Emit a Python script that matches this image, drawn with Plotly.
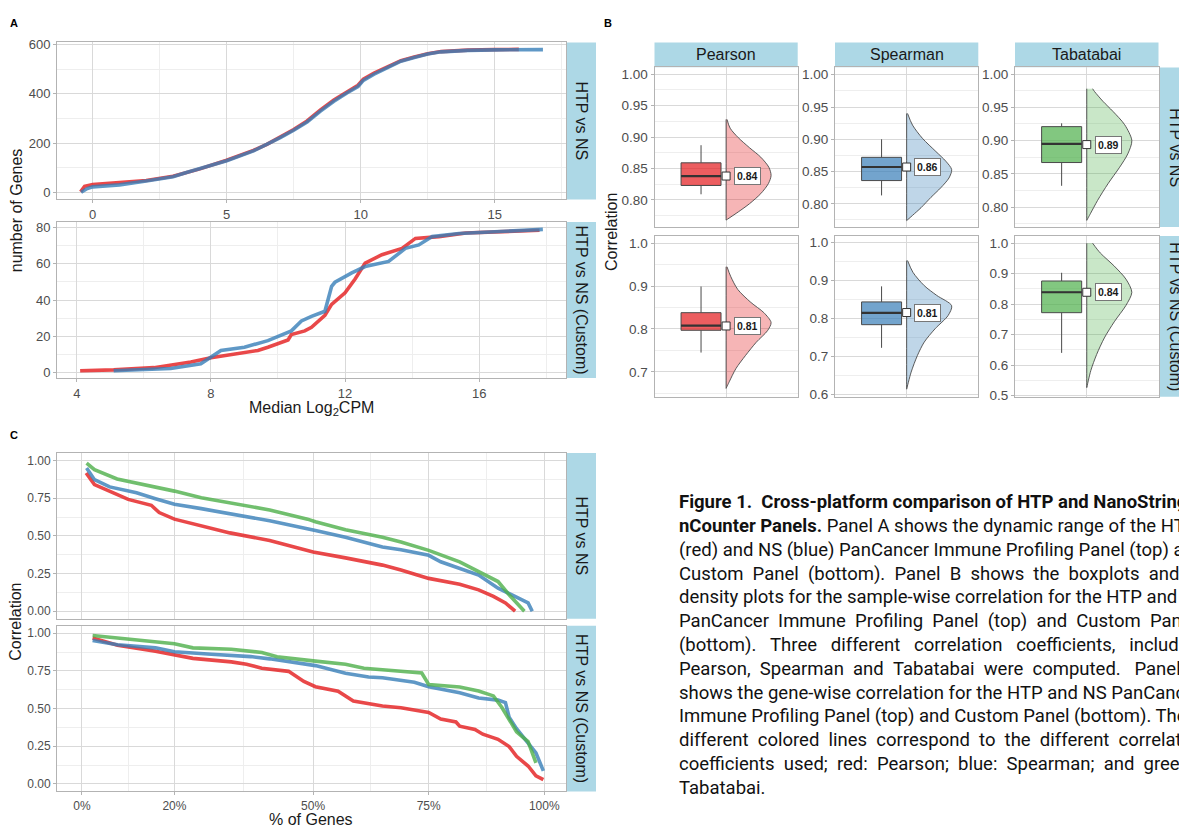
import plotly.graph_objects as go

W, H = 1179, 832

# ---------------- Panel A data (Median Log2CPM vs cumulative number of genes) ----------------
a1_red_x = [-0.45, -0.3, 0.0, 1.0, 2.0, 3.0, 3.5, 4.0, 5.0, 6.0, 6.5, 7.0, 7.5, 8.0, 8.5, 9.0, 9.5, 9.9, 10.1, 10.5, 11.0, 11.5, 12.0, 12.5, 13.0, 14.0, 15.0, 15.9]
a1_red_y = [2, 24, 31, 38, 48, 65, 80, 95, 130, 170, 195, 225, 255, 290, 335, 375, 410, 435, 460, 485, 510, 535, 550, 563, 572, 578, 580, 581]
a1_blue_x = [-0.43, -0.2, 0.0, 1.0, 2.0, 3.0, 3.5, 4.0, 5.0, 6.0, 6.5, 7.0, 7.5, 8.0, 8.5, 9.0, 9.5, 9.9, 10.1, 10.5, 11.0, 11.5, 12.0, 12.5, 13.0, 14.0, 15.0, 16.0, 16.8]
a1_blue_y = [0, 15, 22, 30, 46, 63, 80, 96, 128, 168, 193, 222, 252, 286, 330, 370, 405, 430, 455, 480, 507, 533, 548, 562, 571, 577, 579, 580, 580]

a2_red_x = [4.1, 5.1, 6.3, 7.4, 8.0, 8.5, 9.1, 9.4, 9.7, 10.1, 10.3, 10.4, 10.8, 11.0, 11.4, 11.6, 12.0, 12.3, 12.6, 13.1, 13.7, 14.1, 14.8, 15.6, 17.8]
a2_red_y = [1, 1.5, 2.7, 5.8, 8.2, 9.5, 11.3, 12.2, 14, 16.5, 18, 21, 23, 25, 31.6, 37.6, 44, 51.6, 60.4, 65, 68.5, 74, 75, 77, 78.5]
a2_blue_x = [5.1, 6.8, 7.7, 8.0, 8.3, 9.0, 9.7, 10.4, 10.7, 11.0, 11.4, 11.6, 11.7, 12.2, 12.6, 13.3, 13.8, 14.2, 14.6, 15.4, 17.9]
a2_blue_y = [1, 2.2, 4.9, 8.5, 12.2, 14, 17.6, 23, 28.5, 31, 33.8, 47.6, 49.8, 55, 58.5, 61.3, 68.5, 70.4, 75, 76.7, 79]

# ---------------- Panel B data (sample-wise correlation) ----------------
b_methods = ["Pearson", "Spearman", "Tabatabai"]
b_rows = ["HTP vs NS", "HTP vs NS (Custom)"]
# box statistics [row][method]
b_q1 = [[0.823, 0.836, 0.867], [0.797, 0.783, 0.772]]
b_med = [[0.838, 0.857, 0.895], [0.808, 0.814, 0.839]]
b_q3 = [[0.859, 0.872, 0.921], [0.838, 0.843, 0.876]]
b_lo = [[0.809, 0.813, 0.832], [0.745, 0.722, 0.640]]
b_hi = [[0.887, 0.900, 0.926], [0.899, 0.884, 0.903]]
b_mean = [[0.838, 0.857, 0.894], [0.807, 0.815, 0.839]]
b_label = [["0.84", "0.86", "0.89"], ["0.81", "0.81", "0.84"]]
# half-violin outlines: y positions and relative density width
vio_top_pearson_y = [0.928, 0.914, 0.899, 0.883, 0.868, 0.852, 0.839, 0.826, 0.810, 0.794, 0.781, 0.768]
vio_top_pearson_w = [0.02, 0.09, 0.27, 0.52, 0.77, 0.95, 1.00, 0.94, 0.77, 0.52, 0.27, 0.0]
vio_top_spearman_y = [0.940, 0.922, 0.9015, 0.881, 0.866, 0.853, 0.840, 0.825, 0.810, 0.794, 0.782, 0.774]
vio_top_spearman_w = [0.02, 0.13, 0.35, 0.65, 0.87, 1.00, 0.94, 0.76, 0.54, 0.32, 0.13, 0.0]
vio_top_tabatabai_y = [0.978, 0.974, 0.959, 0.944, 0.924, 0.900, 0.880, 0.860, 0.835, 0.810, 0.790, 0.780]
vio_top_tabatabai_w = [0.13, 0.17, 0.36, 0.58, 0.84, 1.00, 0.91, 0.73, 0.47, 0.24, 0.08, 0.0]
vio_bot_pearson_y = [0.945, 0.923, 0.892, 0.862, 0.838, 0.815, 0.796, 0.769, 0.738, 0.708, 0.677, 0.6615]
vio_bot_pearson_w = [0.02, 0.10, 0.26, 0.55, 0.84, 1.00, 0.92, 0.67, 0.43, 0.22, 0.07, 0.0]
vio_bot_spearman_y = [0.952, 0.921, 0.886, 0.860, 0.833, 0.807, 0.772, 0.737, 0.702, 0.658, 0.613]
vio_bot_spearman_w = [0.02, 0.14, 0.39, 0.67, 1.00, 0.92, 0.63, 0.39, 0.24, 0.10, 0.0]
vio_bot_tabatabai_y = [1.000, 0.968, 0.925, 0.882, 0.839, 0.796, 0.742, 0.689, 0.635, 0.582, 0.526]
vio_bot_tabatabai_w = [0.13, 0.30, 0.61, 0.87, 1.00, 0.87, 0.61, 0.39, 0.22, 0.09, 0.0]
vio_y = [[vio_top_pearson_y, vio_top_spearman_y, vio_top_tabatabai_y],
         [vio_bot_pearson_y, vio_bot_spearman_y, vio_bot_tabatabai_y]]
vio_w = [[vio_top_pearson_w, vio_top_spearman_w, vio_top_tabatabai_w],
         [vio_bot_pearson_w, vio_bot_spearman_w, vio_bot_tabatabai_w]]
b_yrange = [[(0.757, 1.0105), (0.764, 1.0113), (0.770, 1.010)],
            [(0.642, 1.017), (0.593, 1.017), (0.496, 1.024)]]

# ---------------- Panel C data (gene-wise correlation, % of genes) ----------------
c1_red_x = [0.9, 2.7, 6.8, 10, 15, 16, 16.7, 20, 25.8, 32, 40.6, 48.8, 50, 57, 65, 69, 75, 81.7, 85.8, 89, 91.6, 93.7]
c1_red_y = [0.917, 0.84, 0.786, 0.742, 0.703, 0.672, 0.655, 0.611, 0.568, 0.52, 0.469, 0.404, 0.393, 0.354, 0.306, 0.273, 0.218, 0.179, 0.142, 0.098, 0.055, 0.0]
c1_blue_x = [1, 2.7, 6, 11.8, 15.9, 20, 25.8, 32.3, 40.6, 50.5, 57, 65, 69, 75, 77.6, 85.8, 90, 93, 96.5, 97.4]
c1_blue_y = [0.95, 0.873, 0.825, 0.786, 0.747, 0.71, 0.681, 0.644, 0.60, 0.535, 0.491, 0.426, 0.408, 0.371, 0.328, 0.24, 0.153, 0.109, 0.055, 0.0]
c1_green_x = [1, 2.7, 7.6, 11.8, 20, 25.8, 32.3, 40.6, 48.8, 50.5, 57, 65, 69, 75, 81.7, 85.8, 90, 92.4, 94, 95.7]
c1_green_y = [0.983, 0.939, 0.878, 0.852, 0.797, 0.753, 0.72, 0.672, 0.611, 0.594, 0.541, 0.491, 0.459, 0.404, 0.328, 0.266, 0.197, 0.109, 0.055, 0.0]

c2_red_x = [2.3, 7.7, 15.9, 20, 24, 32.3, 35.6, 38.9, 44.7, 48, 50.5, 55.4, 58.7, 65, 69, 75, 77.6, 80.9, 81.7, 85, 86.7, 90, 92.4, 94, 96.5, 98.2, 99.8]
c2_red_y = [0.968, 0.92, 0.88, 0.855, 0.833, 0.81, 0.794, 0.768, 0.747, 0.68, 0.645, 0.615, 0.55, 0.517, 0.506, 0.474, 0.43, 0.411, 0.383, 0.361, 0.33, 0.296, 0.248, 0.183, 0.119, 0.054, 0.028]
c2_blue_x = [2.3, 7.7, 15.9, 20, 28, 36.5, 40.6, 44.7, 50.5, 57, 62, 65, 71.9, 75, 81.7, 85.8, 90, 91.6, 92.4, 94, 95.7, 98.2, 99.8]
c2_blue_y = [0.952, 0.924, 0.903, 0.877, 0.86, 0.845, 0.83, 0.81, 0.785, 0.735, 0.71, 0.705, 0.675, 0.645, 0.605, 0.57, 0.556, 0.54, 0.443, 0.367, 0.303, 0.206, 0.087]
c2_green_x = [2.3, 7.7, 15.9, 20, 24, 32.3, 38.9, 42.2, 50.5, 57, 61, 69, 73.5, 75, 81.7, 85.8, 89, 90.8, 92.4, 94, 96.5, 98.2]
c2_green_y = [0.985, 0.968, 0.946, 0.93, 0.903, 0.894, 0.872, 0.844, 0.815, 0.794, 0.768, 0.751, 0.736, 0.66, 0.643, 0.617, 0.584, 0.509, 0.422, 0.346, 0.281, 0.14]

c_xticks = [0, 20, 50, 75, 100]
c_xticktext = ["0%", "20%", "50%", "75%", "100%"]

caption_lines = [
    "<b>Figure 1.\u00a0\u00a0Cross-platform comparison of HTP and NanoString</b>",
    "<b>nCounter Panels.</b> Panel A shows the dynamic range of the HTP",
    "(red) and NS (blue) PanCancer Immune Profiling Panel (top) and",
    "Custom Panel (bottom). Panel B shows the boxplots and the",
    "density plots for the sample-wise correlation for the HTP and NS",
    "PanCancer Immune Profiling Panel (top) and Custom Panel",
    "(bottom). Three different correlation coefficients, including",
    "Pearson, Spearman and Tabatabai were computed.\u00a0 Panel C",
    "shows the gene-wise correlation for the HTP and NS PanCancer",
    "Immune Profiling Panel (top) and Custom Panel (bottom). The",
    "different colored lines correspond to the different correlation",
    "coefficients used; red: Pearson; blue: Spearman; and green:",
    "Tabatabai.",
]
caption_gaps = [1, 1, 1, 2, 1, 2, 3, 2, 1, 1, 2, 2, 1]

# ---------------- styling ----------------
FONT = "Liberation Sans, Arial, sans-serif"
GRID = "#D9D9D9"
MINOR = "#EEEEEE"
BORDER = "#B3B3B3"
TICKC = "#4D4D4D"
STRIP = "#ADD8E6"
RED = "rgba(228,26,28,0.8)"
BLUE = "rgba(55,126,184,0.8)"
GREEN = "rgba(77,175,74,0.8)"
BOX_FILL = ["rgba(228,26,28,0.70)", "rgba(55,126,184,0.70)", "rgba(77,175,74,0.70)"]
VIO_FILL = ["rgba(228,26,28,0.32)", "rgba(55,126,184,0.32)", "rgba(77,175,74,0.30)"]
TITLE_SIZE = 16
STRIP_SIZE = 16


def px(x):
    return x / W


def py(y):
    return 1 - y / H


def axis(dom, anchor, size=12, **kw):
    d = dict(domain=dom, anchor=anchor, showline=True, linecolor=BORDER, linewidth=1, mirror=True,
             showgrid=True, gridcolor=GRID, gridwidth=1, zeroline=False, ticks="outside", ticklen=3,
             tickcolor=BORDER, tickwidth=1, tickfont=dict(family=FONT, size=size, color=TICKC),
             fixedrange=True)
    d.update(kw)
    return d


def minor(vals):
    return dict(tickmode="array", tickvals=vals, showgrid=True, gridcolor=MINOR, gridwidth=0.7, ticks="")


fig = go.Figure()
layout = {}
shapes = []
annotations = []


def strip_v(x0, x1, y0, y1, text, size=STRIP_SIZE):
    shapes.append(dict(type="rect", xref="paper", yref="paper", x0=px(x0), x1=px(x1), y0=py(y1), y1=py(y0),
                       fillcolor=STRIP, line=dict(width=0), layer="below"))
    annotations.append(dict(xref="paper", yref="paper", x=px((x0 + x1) / 2), y=py((y0 + y1) / 2), text=text,
                            textangle=90, showarrow=False, font=dict(family=FONT, size=size, color="#1A1A1A"),
                            xanchor="center", yanchor="middle"))


def strip_h(x0, x1, y0, y1, text, size=STRIP_SIZE):
    shapes.append(dict(type="rect", xref="paper", yref="paper", x0=px(x0), x1=px(x1), y0=py(y1), y1=py(y0),
                       fillcolor=STRIP, line=dict(width=0), layer="below"))
    annotations.append(dict(xref="paper", yref="paper", x=px((x0 + x1) / 2), y=py((y0 + y1) / 2), text=text,
                            showarrow=False, font=dict(family=FONT, size=size, color="#1A1A1A"),
                            xanchor="center", yanchor="middle"))


def title(x, y, text, angle=0):
    annotations.append(dict(xref="paper", yref="paper", x=px(x), y=py(y), text=text, textangle=angle,
                            showarrow=False, font=dict(family=FONT, size=TITLE_SIZE, color="#1A1A1A"),
                            xanchor="center", yanchor="middle"))


def line(x, y, color, n):
    fig.add_trace(go.Scatter(x=x, y=y, mode="lines", line=dict(color=color, width=3.6),
                             xaxis=f"x{n}" if n > 1 else "x", yaxis=f"y{n}" if n > 1 else "y",
                             hoverinfo="skip"))


# ---------------- Panel A ----------------
A_X = (57, 566)
A1_Y = (38, 197)
A2_Y = (220, 378)
layout["xaxis"] = axis([px(A_X[0]), px(A_X[1])], "y", size=13, range=[-1.33, 17.66], tickvals=[0, 5, 10, 15],
                       minor=minor([2.5, 7.5, 12.5, 17.5]))
layout["yaxis"] = axis([py(A1_Y[1]), py(A1_Y[0])], "x", size=13, range=[-29, 609], tickvals=[0, 200, 400, 600],
                       minor=minor([100, 300, 500]))
layout["xaxis2"] = axis([px(A_X[0]), px(A_X[1])], "y2", size=13, range=[3.41, 18.59], tickvals=[4, 8, 12, 16],
                        minor=minor([6, 10, 14, 18]))
layout["yaxis2"] = axis([py(A2_Y[1]), py(A2_Y[0])], "x2", size=13, range=[-3, 83], tickvals=[0, 20, 40, 60, 80],
                        minor=minor([10, 30, 50, 70]))
line(a1_red_x, a1_red_y, RED, 1)
line(a1_blue_x, a1_blue_y, BLUE, 1)
line(a2_red_x, a2_red_y, RED, 2)
line(a2_blue_x, a2_blue_y, BLUE, 2)
strip_v(567, 596, A1_Y[0], A1_Y[1], "HTP vs NS")
strip_v(567, 596, A2_Y[0], A2_Y[1], "HTP vs NS (Custom)")
title(311, 409, "Median Log<sub>2</sub>CPM")
title(16, 208, "number of Genes", -90)

# ---------------- Panel B ----------------
B_COLS = [(654.5, 797.7), (835.0, 978.3), (1015.0, 1158.5)]
B_ROWS = [(63.3, 225.0), (234.0, 397.0)]
BOX_X = 0.79
BOX_W = 0.335
VIO_MAX = 0.377
for r in range(2):
    for c in range(3):
        n = 3 + r * 3 + c
        xa, ya = f"x{n}", f"y{n}"
        lo_r, hi_r = b_yrange[r][c]
        if r == 0:
            yt = dict(dtick=0.05, tick0=0, tickformat=".2f", minor=dict(dtick=0.025, tick0=0, showgrid=True,
                                                                        gridcolor=MINOR, gridwidth=0.7, ticks=""))
        else:
            yt = dict(dtick=0.1, tick0=0, tickformat=".1f", minor=dict(dtick=0.05, tick0=0, showgrid=True,
                                                                       gridcolor=MINOR, gridwidth=0.7, ticks=""))
        layout[f"xaxis{n}"] = axis([px(B_COLS[c][0]), px(B_COLS[c][1])], ya, range=[0.4, 1.6], tickvals=[1],
                                   showticklabels=False, ticks="")
        layout[f"yaxis{n}"] = axis([py(B_ROWS[r][1]), py(B_ROWS[r][0])], xa, size=13.5, range=[lo_r, hi_r], **yt)
        # box
        fig.add_trace(go.Box(x=[BOX_X], q1=[b_q1[r][c]], median=[b_med[r][c]], q3=[b_q3[r][c]],
                             lowerfence=[b_lo[r][c]], upperfence=[b_hi[r][c]], width=BOX_W, whiskerwidth=0,
                             fillcolor=BOX_FILL[c], line=dict(color="#4A4A4A", width=1), boxpoints=False,
                             xaxis=xa, yaxis=ya, hoverinfo="skip"))
        fig.add_trace(go.Scatter(x=[BOX_X - BOX_W / 2, BOX_X + BOX_W / 2], y=[b_med[r][c], b_med[r][c]],
                                 mode="lines", line=dict(color="#333333", width=2.2), xaxis=xa, yaxis=ya,
                                 hoverinfo="skip"))
        # half violin
        vy = vio_y[r][c]
        vw = vio_w[r][c]
        vx = [1 + w * VIO_MAX for w in vw] + [1, 1]
        vyy = list(vy) + [vy[-1], vy[0]]
        fig.add_trace(go.Scatter(x=vx, y=vyy, mode="lines", fill="toself", fillcolor=VIO_FILL[c],
                                 line=dict(color="#4A4A4A", width=0.9, shape="spline", smoothing=0.8),
                                 xaxis=xa, yaxis=ya, hoverinfo="skip"))
        # mean marker + label
        fig.add_trace(go.Scatter(x=[1], y=[b_mean[r][c]], mode="markers",
                                 marker=dict(symbol="square", size=8, color="white",
                                             line=dict(color="#333333", width=1)),
                                 xaxis=xa, yaxis=ya, hoverinfo="skip"))
        annotations.append(dict(xref=xa, yref=ya, x=1.065, y=b_mean[r][c], text="<b>" + b_label[r][c] + "</b>",
                                showarrow=False, xanchor="left", yanchor="middle",
                                font=dict(family=FONT, size=10.5, color="#1A1A1A"), bgcolor="white",
                                bordercolor="#777777", borderwidth=1, borderpad=2))
    strip_v(1160, 1192, B_ROWS[r][0], B_ROWS[r][1], b_rows[r])
for c in range(3):
    strip_h(B_COLS[c][0], B_COLS[c][1], 38, 63, b_methods[c])
title(612, 230, "Correlation", -90)

# ---------------- Panel C ----------------
C1_Y = (454, 622)
C2_Y = (629, 797)
for n, yy in ((9, C1_Y), (10, C2_Y)):
    layout[f"xaxis{n}"] = axis([px(A_X[0]), px(A_X[1])], f"y{n}", range=[-5.4, 104.7], tickvals=c_xticks,
                               ticktext=c_xticktext, minor=minor([10, 35, 62.5, 87.5]))
    layout[f"yaxis{n}"] = axis([py(yy[1]), py(yy[0])], f"x{n}", range=[-0.05, 1.05],
                               tickvals=[0, 0.25, 0.5, 0.75, 1.0],
                               ticktext=["0.00", "0.25", "0.50", "0.75", "1.00"],
                               minor=minor([0.125, 0.375, 0.625, 0.875]))
layout["xaxis9"].update(showticklabels=False, ticks="")
line(c1_red_x, c1_red_y, RED, 9)
line(c1_blue_x, c1_blue_y, BLUE, 9)
line(c1_green_x, c1_green_y, GREEN, 9)
line(c2_red_x, c2_red_y, RED, 10)
line(c2_blue_x, c2_blue_y, BLUE, 10)
line(c2_green_x, c2_green_y, GREEN, 10)
strip_v(567, 596, C1_Y[0], C1_Y[1], "HTP vs NS")
strip_v(567, 596, C2_Y[0], C2_Y[1], "HTP vs NS (Custom)")
title(311, 825, "% of Genes")
title(16, 625, "Correlation", -90)

# ---------------- panel letters ----------------
for letter, (lx, ly) in {"A": (14, 18), "B": (608, 18), "C": (14, 436)}.items():
    annotations.append(dict(xref="paper", yref="paper", x=px(lx), y=py(ly), text="<b>" + letter + "</b>",
                            showarrow=False, font=dict(family=FONT, size=11, color="#000000"),
                            xanchor="center", yanchor="middle"))

# ---------------- caption ----------------
for i, (txt, g) in enumerate(zip(caption_lines, caption_gaps)):
    t = ("\u00a0" * g).join(txt.split(" ")) if g > 1 else txt
    annotations.append(dict(xref="paper", yref="paper", x=px(677), y=py(504 + i * 24.1), text=t,
                            showarrow=False, xanchor="left", yanchor="middle",
                            font=dict(family="Roboto", size=18.5, color="#111111")))

fig.update_layout(width=W, height=H, margin=dict(l=0, r=0, t=0, b=0), paper_bgcolor="white",
                  plot_bgcolor="white", showlegend=False, shapes=shapes, annotations=annotations, **layout)
fig.write_html("out.html", config={"displayModeBar": False},
               post_script="document.body.style.margin='0px';")
